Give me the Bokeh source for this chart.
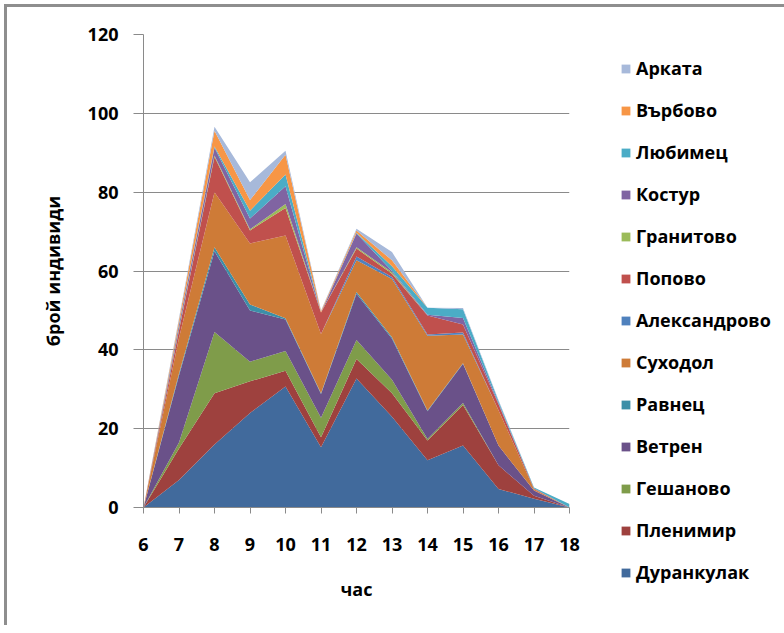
from bokeh.plotting import figure
from bokeh.models import (ColumnDataSource, Legend, LegendItem, FixedTicker,
                          Range1d)
from bokeh.embed import file_html
from bokeh.resources import INLINE

hours = [6, 7, 8, 9, 10, 11, 12, 13, 14, 15, 16, 17, 18]

# series, bottom to top
durankulak = [0, 7, 16, 24, 30.7, 15.3, 32.7, 23, 12, 15.7, 4.7, 2.2, 0]
plenimir = [0, 8, 13, 8, 4, 2.5, 5, 6, 5, 10.3, 6, 0.8, 0]
geshanovo = [0, 1.5, 15.5, 5, 5, 5, 4.8, 3.4, 0.4, 0.5, 0, 0, 0]
vetren = [0, 17, 20.5, 13, 8, 6, 11.7, 10.4, 7, 10, 5, 1.3, 0]
ravnets = [0, 0.5, 1, 1.5, 0.3, 0.2, 0.5, 0.4, 0.2, 0.1, 0, 0, 0]
suhodol = [0, 9, 14, 15.5, 21, 15, 8, 14.8, 19, 7.3, 9, 0.3, 0]
aleksandrovo = [0, 0, 0, 0, 0, 0, 1, 0.5, 0.3, 0.5, 0, 0, 0]
popovo = [0, 2, 9, 3.3, 7, 5.5, 2, 0.8, 4.8, 2, 1.5, 0.2, 0]
granitovo = [0, 0.3, 0.3, 0.3, 1, 0, 0.3, 0.4, 0, 0, 0, 0, 0]
kostur = [0, 1, 2, 2.7, 4.5, 0, 3.5, 0.3, 0.2, 1.7, 0.3, 0, 0]
lyubimets = [0, 0.3, 0.3, 2, 3, 0, 0.2, 1.2, 1.8, 2.2, 0.5, 0.3, 0.9]
varbovo = [0, 1, 4, 2.7, 5, 0.3, 0.6, 1.5, 0, 0, 0, 0, 0]
arkata = [0, 0.5, 1, 4.5, 1, 0.2, 0.4, 2.1, 0, 0.3, 0.3, 0, 0]

names = ["Дуранкулак", "Пленимир", "Гешаново", "Ветрен", "Равнец", "Суходол",
         "Александрово", "Попово", "Гранитово", "Костур", "Любимец", "Върбово",
         "Арката"]
series = [durankulak, plenimir, geshanovo, vetren, ravnets, suhodol,
          aleksandrovo, popovo, granitovo, kostur, lyubimets, varbovo, arkata]
colors = ["#416A9C", "#9E413E", "#7F9C4A", "#6A5189", "#3C8FA8", "#CE7B37",
          "#4F81BD", "#C0504D", "#9BBB59", "#8064A2", "#4BACC6", "#F79646",
          "#A7B9DA"]

y_ticks = [0, 20, 40, 60, 80, 100, 120]

data = {"hour": hours}
keys = []
for i, s in enumerate(series):
    k = "s%d" % i
    keys.append(k)
    data[k] = s
source = ColumnDataSource(data)

FONT = "Open Sans"
OFF = 7            # canvas offset created by css margin + border
left, top = 143 - OFF, 34 - OFF
fw, fh = 426, 473

p = figure(frame_width=fw, frame_height=fh, output_backend="svg",
           toolbar_location=None,
           x_range=Range1d(6, 18), y_range=Range1d(0, 120),
           min_border_left=left, min_border_right=770 - left - fw,
           min_border_top=top, min_border_bottom=618 - top - fh)
p.styles = {"margin-left": "4px", "margin-top": "4px",
            "border-left": "3px solid #8E8E8E", "border-top": "3px solid #8E8E8E",
            "border-right": "none", "border-bottom": "none"}
p.outline_line_color = None
p.background_fill_color = "white"
p.border_fill_color = "white"

rs = p.varea_stack(stackers=keys, x="hour", color=colors, source=source)

p.xgrid.grid_line_color = None
p.ygrid.grid_line_color = "#8A8A8A"
p.ygrid.grid_line_width = 1
p.ygrid.level = "underlay"

p.xaxis.ticker = FixedTicker(ticks=hours)
p.yaxis.ticker = FixedTicker(ticks=y_ticks)
for ax in (p.xaxis[0], p.yaxis[0]):
    ax.axis_line_color = "#8A8A8A"
    ax.major_tick_line_color = "#8A8A8A"
    ax.minor_tick_line_color = None
    ax.major_tick_in = 0
    ax.major_label_text_font = FONT
    ax.major_label_text_font_style = "bold"
    ax.major_label_text_font_size = "18px"
    ax.major_label_text_color = "black"
    ax.axis_label_text_font = FONT
    ax.axis_label_text_font_style = "bold"
    ax.axis_label_text_font_size = "18px"
    ax.axis_label_text_color = "black"

p.yaxis.major_tick_out = 10
p.yaxis.major_label_standoff = 15
p.yaxis.axis_label = "брой индивиди"
p.yaxis.axis_label_standoff = 20

p.xaxis.major_tick_out = 6
p.xaxis.major_label_standoff = 24
p.xaxis.axis_label = "час"
p.xaxis.axis_label_standoff = 23

items = [LegendItem(label=names[i], renderers=[rs[i]]) for i in range(len(names) - 1, -1, -1)]
legend = Legend(items=items, location=(51, -78), padding=0, margin=0,
                spacing=16, label_height=26, glyph_height=11, glyph_width=11,
                label_standoff=5, label_text_font=FONT,
                label_text_font_style="bold", label_text_font_size="18px",
                label_text_color="black", border_line_color=None,
                background_fill_alpha=0)
p.add_layout(legend, "right")

open("out.html", "w").write(file_html(p, INLINE))
